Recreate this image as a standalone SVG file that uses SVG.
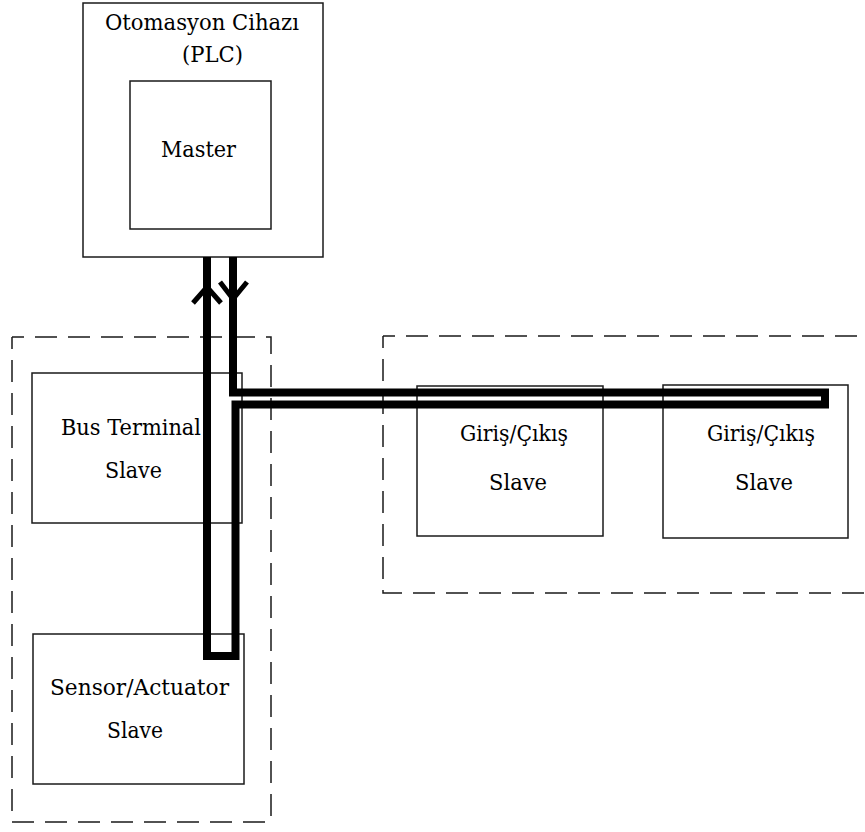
<svg xmlns="http://www.w3.org/2000/svg" width="865" height="832" viewBox="0 0 865 832">
  <style>
    .box { fill: none; stroke: #1a1a1a; stroke-width: 1.5; }
    .zone { fill: none; stroke: #1a1a1a; stroke-width: 1.5; stroke-dasharray: 22 11; stroke-dashoffset: 10; }
    .lbl { font-family: "DejaVu Serif", "Liberation Serif", serif; font-size: 22px; fill: #000; }
    .bus { fill: none; stroke: #000; stroke-width: 8; stroke-linejoin: miter; }
    .head { fill: none; stroke: #000; stroke-width: 5; stroke-linejoin: miter; }
  </style>
  <rect width="865" height="832" fill="#fff"/>

  <!-- dashed segment zones -->
  <g id="zone-left">
    <path class="zone" d="M12,337 H271 V822"/>
    <path class="zone" d="M12,337 V822 H271"/>
  </g>
  <g id="zone-right">
    <path class="zone" d="M383,336 H870"/>
    <path class="zone" d="M383,336 V593 H870"/>
  </g>

  <g id="plc">
    <rect class="box" x="83" y="3" width="240" height="254"/>
    <text class="lbl" x="105" y="30" textLength="194" lengthAdjust="spacingAndGlyphs">Otomasyon Cihazı</text>
    <text class="lbl" x="182" y="62" textLength="61" lengthAdjust="spacingAndGlyphs">(PLC)</text>
  </g>
  <g id="master">
    <rect class="box" x="130" y="81" width="141" height="148"/>
    <text class="lbl" x="161" y="157" textLength="75" lengthAdjust="spacingAndGlyphs">Master</text>
  </g>
  <g id="bus-terminal">
    <rect class="box" x="32" y="373" width="210" height="150"/>
    <text class="lbl" x="61" y="435" textLength="140" lengthAdjust="spacingAndGlyphs">Bus Terminal</text>
    <text class="lbl" x="105" y="478" textLength="57" lengthAdjust="spacingAndGlyphs">Slave</text>
  </g>
  <g id="sensor-actuator">
    <rect class="box" x="33" y="634" width="211" height="150"/>
    <text class="lbl" x="50" y="695" textLength="179" lengthAdjust="spacingAndGlyphs">Sensor/Actuator</text>
    <text class="lbl" x="107" y="738" textLength="56" lengthAdjust="spacingAndGlyphs">Slave</text>
  </g>
  <g id="io-1">
    <rect class="box" x="417" y="386" width="186" height="150"/>
    <text class="lbl" x="460" y="441" textLength="108" lengthAdjust="spacingAndGlyphs">Giriş/Çıkış</text>
    <text class="lbl" x="489" y="490" textLength="58" lengthAdjust="spacingAndGlyphs">Slave</text>
  </g>
  <g id="io-2">
    <rect class="box" x="663" y="385" width="185" height="153"/>
    <text class="lbl" x="707" y="441" textLength="108" lengthAdjust="spacingAndGlyphs">Giriş/Çıkış</text>
    <text class="lbl" x="735" y="490" textLength="58" lengthAdjust="spacingAndGlyphs">Slave</text>
  </g>

  <!-- bus loop from the PLC through all slaves and back -->
  <g id="connectors">
    <path class="bus" d="M207,257 V656 H235.5 V404.5 H825 V392.5 H233 V257"/>
    <polyline class="head" points="193,303 207,287 221,303"/>
    <polyline class="head" points="220,282 233,299 247,282"/>
  </g>
</svg>
